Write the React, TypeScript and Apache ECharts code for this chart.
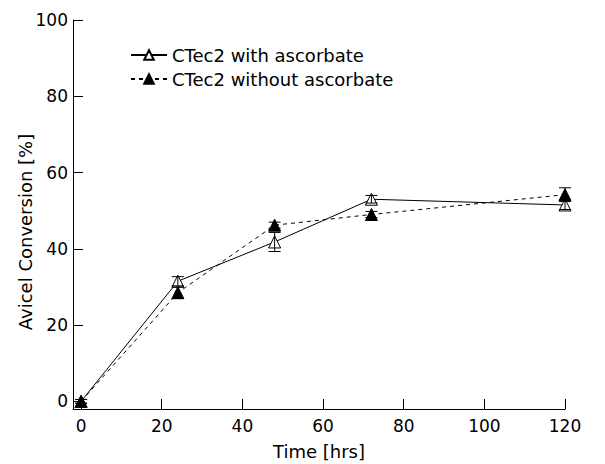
import React, { useEffect, useRef } from "react";
import * as echarts from "echarts";

const hours = [0, 24, 48, 72, 120];
const withAsc = [0, 31.5, 41.8, 53, 51.5];
const withAscErr = [0.5, 1.2, 2.5, 1.0, 1.2];
const withoutAsc = [0, 28.5, 46.2, 49, 54.2];
const withoutAscErr = [0.5, 1.5, 0.8, 0.8, 1.8];
const xTicks = [0, 20, 40, 60, 80, 100, 120];
const yTicks = [0, 20, 40, 60, 80, 100];
const seriesNames = ["CTec2 with ascorbate", "CTec2 without ascorbate"];

const FONT = "DejaVu Sans";

function errRender(params: any, api: any) {
  const x = api.value(0);
  const y = api.value(1);
  const e = api.value(2);
  const top = api.coord([x, y + e]);
  const bot = api.coord([x, y - e]);
  const w = 6;
  const st = { stroke: "#000", lineWidth: 1 };
  return {
    type: "group",
    children: [
      { type: "line", shape: { x1: top[0], y1: top[1], x2: bot[0], y2: bot[1] }, style: st },
      { type: "line", shape: { x1: top[0] - w, y1: top[1], x2: top[0] + w, y2: top[1] }, style: st },
      { type: "line", shape: { x1: bot[0] - w, y1: bot[1], x2: bot[0] + w, y2: bot[1] }, style: st },
    ],
  };
}

export default function App() {
  const ref = useRef<HTMLDivElement>(null);
  useEffect(() => {
    const chart = echarts.init(ref.current!, null, { renderer: "svg" });
    const withData = hours.map((h, i) => [h, withAsc[i]]);
    const withoutData = hours.map((h, i) => [h, withoutAsc[i]]);
    const withErr = hours.map((h, i) => [h, withAsc[i], withAscErr[i]]);
    const withoutErr = hours.map((h, i) => [h, withoutAsc[i], withoutAscErr[i]]);
    chart.setOption({
      animation: false,
      backgroundColor: "#fff",
      textStyle: { fontFamily: FONT, color: "#000" },
      grid: { left: 73, right: 40, top: 20, bottom: 55, outerBoundsMode: "none", containLabel: false },
      legend: {
        data: seriesNames,
        orient: "vertical",
        left: 125,
        top: 41,
        itemWidth: 36,
        itemHeight: 12,
        itemGap: 6,
        textStyle: { fontFamily: FONT, fontSize: 18, color: "#000" },
      },
      xAxis: {
        type: "value",
        min: -2,
        max: 120,
        name: "Time [hrs]",
        nameLocation: "middle",
        nameGap: 33,
        nameTextStyle: { fontFamily: FONT, fontSize: 18, color: "#000" },
        axisLine: { onZero: false, lineStyle: { color: "#000", width: 1 } },
        axisTick: { inside: true, length: 10, customValues: xTicks, lineStyle: { color: "#000" } },
        axisLabel: { customValues: xTicks, fontFamily: FONT, fontSize: 17, color: "#000", margin: 8 },
        splitLine: { show: false },
      },
      yAxis: {
        type: "value",
        min: -2,
        max: 100,
        axisLine: { show: true, onZero: false, lineStyle: { color: "#000", width: 1 } },
        axisTick: { show: true, inside: true, length: 10, customValues: yTicks, lineStyle: { color: "#000" } },
        axisLabel: { customValues: yTicks, fontFamily: FONT, fontSize: 17, color: "#000", margin: 5 },
        splitLine: { show: false },
      },
      graphic: [
        {
          type: "text",
          x: 25,
          y: 232,
          rotation: Math.PI / 2,
          style: {
            text: "Avicel Conversion [%]",
            fontFamily: FONT,
            fontSize: 18,
            fill: "#000",
            align: "center",
            verticalAlign: "middle",
          },
        },
      ],
      series: [
        {
          name: seriesNames[0],
          type: "line",
          data: withData,
          symbol: "triangle",
          symbolSize: 12,
          lineStyle: { color: "#000", width: 1, type: "solid" },
          itemStyle: { color: "#fff", borderColor: "#000", borderWidth: 1 },
          z: 3,
        },
        {
          name: seriesNames[1],
          type: "line",
          data: withoutData,
          symbol: "triangle",
          symbolSize: 12,
          lineStyle: { color: "#000", width: 1, type: [4, 4] },
          itemStyle: { color: "#000", borderColor: "#000", borderWidth: 1 },
          z: 3,
        },
        {
          type: "custom",
          renderItem: errRender,
          data: withErr,
          z: 4,
          silent: true,
        },
        {
          type: "custom",
          renderItem: errRender,
          data: withoutErr,
          z: 4,
          silent: true,
        },
      ],
    });
    return () => chart.dispose();
  }, []);
  return (
    <div
      ref={ref}
      style={{ position: "absolute", left: 0, top: 0, width: 605, height: 464 }}
    />
  );
}
